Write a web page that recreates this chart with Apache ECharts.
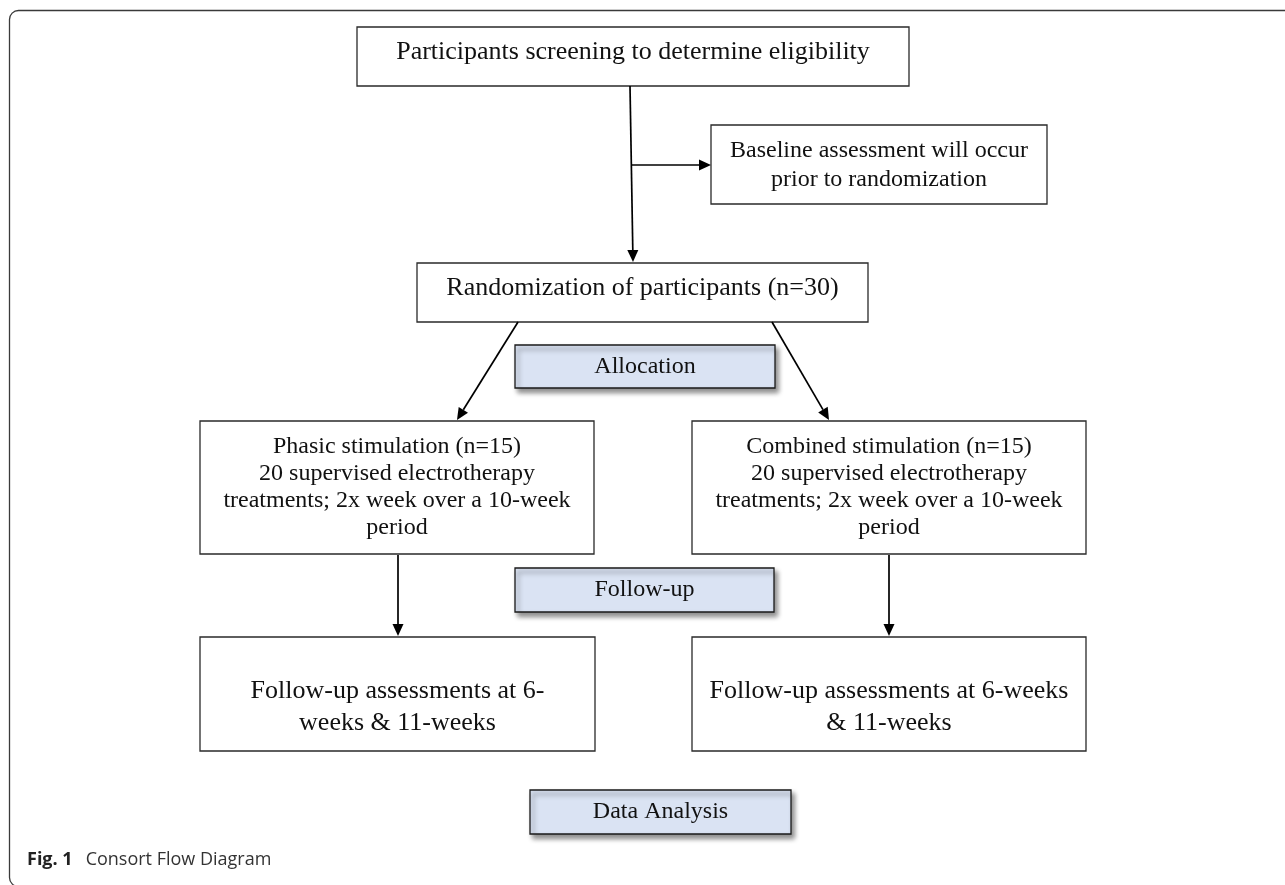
<!DOCTYPE html>
<html>
<head>
<meta charset="utf-8">
<script src="https://cdn.jsdelivr.net/npm/echarts@6/dist/echarts.min.js"></script>
<style>
  html, body { margin: 0; padding: 0; background: #fff; }
  #chart { width: 1285px; height: 885px; }
</style>
</head>
<body>
<div id="chart"></div>
<script>
// box texts
var boxTexts = [
  'Participants screening to determine eligibility',
  'Baseline assessment will occur\nprior to randomization',
  'Randomization of participants (n=30)',
  'Phasic stimulation (n=15)\n20 supervised electrotherapy\ntreatments; 2x week over a 10-week\nperiod',
  'Combined stimulation (n=15)\n20 supervised electrotherapy\ntreatments; 2x week over a 10-week\nperiod',
  'Follow-up assessments at 6-\nweeks & 11-weeks',
  'Follow-up assessments at 6-weeks\n& 11-weeks'
];
var stageLabels = ['Allocation', 'Follow-up', 'Data Analysis'];
var captionBold = 'Fig. 1';
var captionText = 'Consort Flow Diagram';

// layout (page units, y downwards): x0, y0, x1, y1, text centre y, font size, line height
var boxLayout = [
  [357, 27, 909, 86, 52, 26, 30],
  [711, 125, 1047, 204, 165, 24, 29],
  [417, 263, 868, 322, 288, 26, 30],
  [200, 421, 594, 554, 487, 24, 27],
  [692, 421, 1086, 554, 487, 24, 27],
  [200, 637, 595, 751, 707, 26, 32],
  [692, 637, 1086, 751, 707, 26, 32]
];
var stageLayout = [
  [515, 345, 775, 388],
  [515, 568, 774, 612],
  [530, 790, 791, 834]
];
// arrows: from x, from y, to x, to y
var arrowLayout = [
  [630, 86, 633, 262],
  [632, 165, 711, 165],
  [518, 322, 457, 420],
  [772, 322, 829, 420],
  [398, 555, 398, 636],
  [889, 555, 889, 636]
];

var chart = echarts.init(document.getElementById('chart'));
var serif = '"Liberation Serif", "Times New Roman", serif';
var sans = '"Open Sans", "Noto Sans", sans-serif';

function renderBox(params, api) {
  var b = boxLayout[params.dataIndex];
  var p0 = api.coord([b[0], b[1]]);
  var p1 = api.coord([b[2], b[3]]);
  var tc = api.coord([(b[0] + b[2]) / 2, b[4]]);
  return {
    type: 'group',
    children: [
      {
        type: 'rect',
        shape: { x: p0[0], y: p0[1], width: p1[0] - p0[0], height: p1[1] - p0[1] },
        style: { fill: '#fff', stroke: '#2a2a2a', lineWidth: 1.3 }
      },
      {
        type: 'text',
        style: {
          text: boxTexts[params.dataIndex], x: tc[0], y: tc[1],
          align: 'center', verticalAlign: 'middle',
          fontFamily: serif, fontSize: b[5], lineHeight: b[6], fill: '#111'
        }
      }
    ]
  };
}

function renderStage(params, api) {
  var b = stageLayout[params.dataIndex];
  var p0 = api.coord([b[0], b[1]]);
  var p1 = api.coord([b[2], b[3]]);
  return {
    type: 'group',
    children: [
      {
        type: 'rect',
        shape: { x: p0[0], y: p0[1], width: p1[0] - p0[0], height: p1[1] - p0[1] },
        style: {
          fill: '#dae3f3', stroke: '#1a1a1a', lineWidth: 1.3,
          shadowBlur: 5, shadowOffsetX: 3, shadowOffsetY: 4, shadowColor: 'rgba(0,0,0,0.45)'
        }
      },
      {
        type: 'text',
        style: {
          text: stageLabels[params.dataIndex], x: (p0[0] + p1[0]) / 2, y: (p0[1] + p1[1]) / 2,
          align: 'center', verticalAlign: 'middle',
          fontFamily: serif, fontSize: 24, fill: '#111'
        }
      }
    ]
  };
}

function renderArrow(params, api) {
  var a = arrowLayout[params.dataIndex];
  var s = api.coord([a[0], a[1]]);
  var e = api.coord([a[2], a[3]]);
  var ang = Math.atan2(e[1] - s[1], e[0] - s[0]);
  var len = 12, half = 5.5;
  var bx = e[0] - len * Math.cos(ang), by = e[1] - len * Math.sin(ang);
  var nx = -Math.sin(ang) * half, ny = Math.cos(ang) * half;
  return {
    type: 'group',
    children: [
      {
        type: 'line',
        shape: { x1: s[0], y1: s[1], x2: bx, y2: by },
        style: { stroke: '#000', lineWidth: 1.7 }
      },
      {
        type: 'polygon',
        shape: { points: [[e[0], e[1]], [bx + nx, by + ny], [bx - nx, by - ny]] },
        style: { fill: '#000' }
      }
    ]
  };
}

chart.setOption({
  animation: false,
  grid: { left: 0, right: 0, top: 0, bottom: 0 },
  xAxis: { type: 'value', min: 0, max: 1285, show: false },
  yAxis: { type: 'value', min: 0, max: 885, inverse: true, show: false },
  graphic: [
    {
      type: 'rect', z: -10,
      shape: { x: 9.5, y: 10.5, width: 1320, height: 876, r: 9 },
      style: { fill: 'none', stroke: '#3a3a3a', lineWidth: 1.3 }
    },
    {
      type: 'text', left: 27, top: 851,
      style: {
        text: '{b|' + captionBold + '}{g|}' + captionText,
        rich: {
          b: { fontFamily: sans, fontWeight: 'bold', fontSize: 18, fill: '#222' },
          g: { width: 13 }
        },
        fontFamily: sans, fontSize: 18, fill: '#333'
      }
    }
  ],
  series: [
    {
      type: 'custom', coordinateSystem: 'cartesian2d',
      renderItem: renderBox,
      data: boxTexts.map(function (t, i) { return [i]; }),
      silent: true
    },
    {
      type: 'custom', coordinateSystem: 'cartesian2d',
      renderItem: renderStage,
      data: stageLabels.map(function (t, i) { return [i]; }),
      silent: true
    },
    {
      type: 'custom', coordinateSystem: 'cartesian2d',
      renderItem: renderArrow,
      data: arrowLayout.map(function (t, i) { return [i]; }),
      silent: true
    }
  ]
});
</script>
</body>
</html>
